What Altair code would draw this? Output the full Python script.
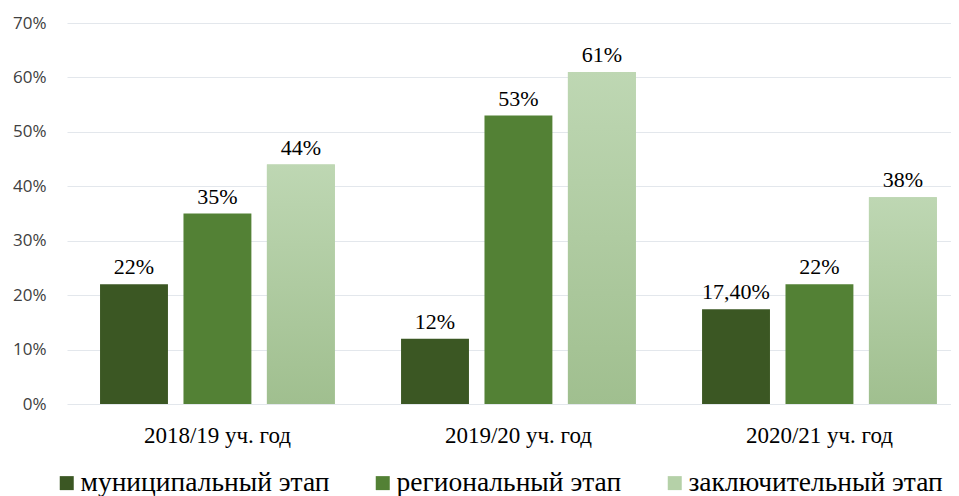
import altair as alt
import pandas as pd

years = ["2018/19 уч. год", "2019/20 уч. год", "2020/21 уч. год"]
stages = ["муниципальный этап", "региональный этап", "заключительный этап"]
municipal = [0.22, 0.12, 0.174]
regional = [0.35, 0.53, 0.22]
final = [0.44, 0.61, 0.38]
municipal_labels = ["22%", "12%", "17,40%"]
regional_labels = ["35%", "53%", "22%"]
final_labels = ["44%", "61%", "38%"]
y_ticks = [0, 0.1, 0.2, 0.3, 0.4, 0.5, 0.6, 0.7]
colors = ["#3B5723", "#538135", "#B5D1A8"]

SERIF = "'Liberation Serif', 'Times New Roman', Times, serif"

rows = []
for vals, labs, st in [(municipal, municipal_labels, stages[0]),
                       (regional, regional_labels, stages[1]),
                       (final, final_labels, stages[2])]:
    for yr, v, lb in zip(years, vals, labs):
        rows.append({"year": yr, "stage": st, "value": v, "label": lb})
df = pd.DataFrame(rows)

base = alt.Chart(df)

x = alt.X("year:N", sort=years,
          scale=alt.Scale(paddingInner=0.22, paddingOuter=0.0784, align=0.7),
          axis=alt.Axis(title=None, labelAngle=0, labelFont=SERIF,
                        labelFontSize=23, labelColor="#000000", labelPadding=38,
                        labelBaseline="alphabetic", domain=False, ticks=False,
                        grid=False))
xo = alt.XOffset("stage:N", sort=stages,
                 scale=alt.Scale(domain=stages, paddingInner=0.186, paddingOuter=0))
y = alt.Y("value:Q", scale=alt.Scale(domain=[0, 0.7], nice=False),
          axis=alt.Axis(title=None, values=y_ticks, format=".0%",
                        labelFont="Open Sans", labelFontSize=17,
                        labelColor="#404040", labelPadding=21,
                        domain=False, ticks=False, grid=True,
                        gridColor="#E3E7EC", gridWidth=1))

bars = base.mark_bar().encode(
    x=x, xOffset=xo, y=y,
    color=alt.Color("stage:N", sort=stages,
                    scale=alt.Scale(domain=stages, range=colors),
                    legend=alt.Legend(title=None, orient="none", legendX=-14, legendY=446,
                                      direction="horizontal", symbolType="square",
                                      symbolSize=196, symbolStrokeWidth=0,
                                      labelFont=SERIF, labelFontSize=27.5,
                                      labelColor="#000000", labelOffset=0,
                                      columnPadding=39, padding=0, labelLimit=0)),
)

grad = base.transform_filter(alt.datum.stage == stages[2]).mark_bar(
    fill=alt.Gradient(gradient="linear",
                      stops=[alt.GradientStop(color="#BED7B3", offset=0),
                             alt.GradientStop(color="#A0BF8F", offset=1)],
                      x1=0, x2=0, y1=0, y2=1)
).encode(x=x, xOffset=xo, y=y)

text = base.mark_text(font=SERIF, fontSize=22, baseline="alphabetic",
                      dy=-10, color="#000000").encode(
    x=x, xOffset=xo, y=y, text="label:N")

chart = alt.layer(bars, grad, text).properties(
    width=884, height=381,
    autosize=alt.AutoSizeParams(type="none"),
    padding={"left": 59, "top": 15, "right": 0, "bottom": 92},
).configure_view(stroke=None)

chart.save("out.html", embed_options={"renderer": "svg", "actions": False})
